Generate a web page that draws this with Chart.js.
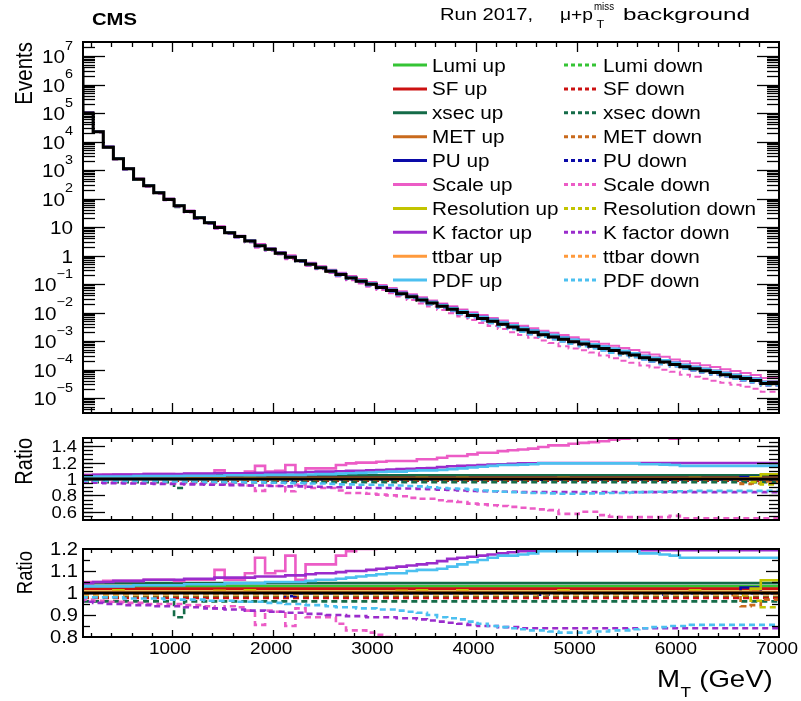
<!DOCTYPE html>
<html>
<head>
<meta charset="utf-8">
<script src="https://cdn.jsdelivr.net/npm/chart.js@4.4.1/dist/chart.umd.min.js"></script>
<style>
  html, body { margin: 0; padding: 0; background: #fff; }
  #wrap { position: relative; width: 801px; height: 701px; overflow: hidden; background: #fff; }
  #wrap canvas { position: absolute; left: 0; top: 0; }
</style>
</head>
<body>
<div id="wrap">
  <canvas id="cMain" width="801" height="701"></canvas>
  <canvas id="cRatioWide" width="801" height="701"></canvas>
  <canvas id="cRatioNarrow" width="801" height="701"></canvas>
</div>
<script>
// ---- binning (GeV) ----
const binEdges = [
  120, 220, 320, 420, 520, 620, 720, 820, 920, 1020,
  1120, 1220, 1320, 1420, 1520, 1620, 1720, 1820, 1920, 2020,
  2120, 2220, 2320, 2420, 2520, 2620, 2720, 2820, 2920, 3020,
  3120, 3220, 3320, 3420, 3520, 3620, 3720, 3820, 3920, 4020,
  4120, 4220, 4320, 4420, 4520, 4620, 4720, 4820, 4920, 5020,
  5120, 5220, 5320, 5420, 5520, 5620, 5720, 5820, 5920, 6020,
  6120, 6220, 6320, 6420, 6520, 6620, 6720, 6820, 6920, 7000
];

// ---- nominal background yield per bin ----
const nominal = [
  3.8e6, 1.0e5, 2.2e4, 6.3e3, 2.5e3, 1.1e3, 470, 280, 160, 93,
  56, 35, 21, 14, 9.6, 6.3, 4.6, 3.2, 2.2, 1.65,
  1.2, 0.87, 0.65, 0.49, 0.37, 0.28, 0.214, 0.162, 0.126, 0.098,
  0.076, 0.059, 0.0457, 0.0355, 0.0275, 0.0214, 0.0166, 0.0129, 0.0100, 0.0078,
  0.0062, 0.0049, 0.0039, 0.0031, 0.0025, 0.00204, 0.00166, 0.00138, 0.00115, 0.00095,
  7.9e-4, 6.6e-4, 5.5e-4, 4.6e-4, 3.8e-4, 3.2e-4, 2.6e-4, 2.2e-4, 1.82e-4, 1.51e-4,
  1.26e-4, 1.07e-4, 9.1e-5, 7.8e-5, 6.6e-5, 5.6e-5, 4.8e-5, 4.1e-5, 3.2e-5
];

// ---- systematic variations, as ratio to nominal ----
const lumiUp = [
  1.03, 1.03, 1.03, 1.03, 1.03, 1.03, 1.03, 1.03, 1.03, 1.03,
  1.03, 1.03, 1.03, 1.03, 1.03, 1.03, 1.03, 1.03, 1.03, 1.03,
  1.03, 1.03, 1.03, 1.03, 1.03, 1.03, 1.03, 1.03, 1.03, 1.03,
  1.03, 1.03, 1.03, 1.03, 1.03, 1.03, 1.03, 1.03, 1.03, 1.03,
  1.03, 1.03, 1.03, 1.03, 1.03, 1.03, 1.03, 1.03, 1.03, 1.03,
  1.03, 1.03, 1.03, 1.03, 1.03, 1.03, 1.03, 1.03, 1.03, 1.03,
  1.03, 1.03, 1.03, 1.03, 1.03, 1.03, 1.03, 1.03, 1.03
];
const lumiDown = [
  0.982, 0.982, 0.982, 0.982, 0.982, 0.982, 0.982, 0.982, 0.982, 0.982,
  0.982, 0.982, 0.982, 0.982, 0.982, 0.982, 0.982, 0.982, 0.982, 0.982,
  0.982, 0.982, 0.982, 0.982, 0.982, 0.982, 0.982, 0.982, 0.982, 0.982,
  0.982, 0.982, 0.982, 0.982, 0.982, 0.982, 0.982, 0.982, 0.982, 0.982,
  0.982, 0.982, 0.982, 0.982, 0.982, 0.982, 0.982, 0.982, 0.982, 0.982,
  0.982, 0.982, 0.982, 0.982, 0.982, 0.982, 0.982, 0.982, 0.982, 0.982,
  0.982, 0.982, 0.982, 0.982, 0.982, 0.982, 0.982, 0.982, 0.982
];
const sfUp = [
  1.02, 1.02, 1.02, 1.02, 1.02, 1.02, 1.02, 1.02, 1.02, 1.02,
  1.02, 1.02, 1.02, 1.02, 1.02, 1.02, 1.02, 1.02, 1.02, 1.02,
  1.02, 1.02, 1.02, 1.02, 1.02, 1.02, 1.02, 1.02, 1.02, 1.02,
  1.02, 1.02, 1.02, 1.02, 1.02, 1.02, 1.02, 1.02, 1.02, 1.02,
  1.02, 1.02, 1.02, 1.02, 1.02, 1.02, 1.02, 1.02, 1.02, 1.02,
  1.02, 1.02, 1.02, 1.02, 1.02, 1.02, 1.02, 1.02, 1.02, 1.02,
  1.02, 1.02, 1.02, 1.02, 1.02, 1.02, 1.02, 1.02, 1.02
];
const sfDown = [
  0.978, 0.978, 0.978, 0.978, 0.978, 0.978, 0.978, 0.978, 0.978, 0.978,
  0.978, 0.978, 0.978, 0.978, 0.978, 0.978, 0.978, 0.978, 0.978, 0.978,
  0.978, 0.978, 0.978, 0.978, 0.978, 0.978, 0.978, 0.978, 0.978, 0.978,
  0.978, 0.978, 0.978, 0.978, 0.978, 0.978, 0.978, 0.978, 0.978, 0.978,
  0.978, 0.978, 0.978, 0.978, 0.978, 0.978, 0.978, 0.978, 0.978, 0.978,
  0.978, 0.978, 0.978, 0.978, 0.978, 0.978, 0.978, 0.978, 0.978, 0.978,
  0.978, 0.978, 0.978, 0.978, 0.978, 0.978, 0.978, 0.978, 0.978
];
const xsecUp = [
  1.045, 1.045, 1.045, 1.045, 1.045, 1.045, 1.045, 1.045, 1.045, 1.045,
  1.045, 1.045, 1.045, 1.045, 1.045, 1.045, 1.045, 1.045, 1.045, 1.045,
  1.045, 1.045, 1.045, 1.045, 1.045, 1.045, 1.045, 1.045, 1.045, 1.045,
  1.045, 1.045, 1.045, 1.045, 1.045, 1.045, 1.045, 1.045, 1.045, 1.045,
  1.045, 1.045, 1.045, 1.045, 1.045, 1.045, 1.045, 1.045, 1.045, 1.045,
  1.045, 1.045, 1.045, 1.045, 1.045, 1.045, 1.045, 1.045, 1.045, 1.045,
  1.045, 1.045, 1.045, 1.045, 1.045, 1.045, 1.045, 1.045, 1.045
];
const xsecDown = [
  0.962, 0.962, 0.962, 0.962, 0.962, 0.962, 0.962, 0.962, 0.962, 0.962,
  0.89, 0.962, 0.962, 0.962, 0.962, 0.962, 0.962, 0.962, 0.962, 0.962,
  0.962, 0.962, 0.962, 0.962, 0.962, 0.962, 0.962, 0.962, 0.962, 0.962,
  0.962, 0.962, 0.962, 0.962, 0.962, 0.962, 0.962, 0.962, 0.962, 0.962,
  0.962, 0.962, 0.962, 0.962, 0.962, 0.962, 0.962, 0.962, 0.962, 0.962,
  0.962, 0.962, 0.962, 0.962, 0.962, 0.962, 0.962, 0.962, 0.962, 0.962,
  0.962, 0.962, 0.962, 0.962, 0.962, 0.962, 0.962, 0.962, 0.962
];
const metUp = [
  1.003, 1.003, 1.003, 1.003, 1.003, 1.003, 1.003, 1.003, 1.003, 1.003,
  1.003, 1.003, 1.003, 1.003, 1.003, 1.003, 1.003, 1.003, 1.003, 1.003,
  1.003, 1.003, 1.003, 1.003, 1.003, 1.003, 1.003, 1.003, 1.003, 1.003,
  1.003, 1.003, 1.003, 1.003, 1.003, 1.003, 1.003, 1.003, 1.003, 1.003,
  1.003, 1.003, 1.003, 1.003, 1.003, 1.003, 1.003, 1.003, 1.003, 1.003,
  1.003, 1.003, 1.003, 1.003, 1.003, 1.003, 1.003, 1.003, 1.003, 1.003,
  1.003, 1.003, 1.003, 1.003, 1.003, 1.003, 1.003, 1.01, 1.003
];
const metDown = [
  0.997, 0.997, 0.997, 0.997, 0.997, 0.997, 0.997, 0.997, 0.997, 0.997,
  0.997, 0.997, 0.997, 0.997, 0.997, 0.997, 0.997, 0.997, 0.997, 0.997,
  0.997, 0.997, 0.997, 0.997, 0.997, 0.997, 0.997, 0.997, 0.997, 0.997,
  0.997, 0.997, 0.997, 0.997, 0.997, 0.997, 0.997, 0.997, 0.997, 0.997,
  0.997, 0.997, 0.997, 0.997, 0.997, 0.997, 0.997, 0.997, 0.997, 0.997,
  0.997, 0.997, 0.997, 0.997, 0.997, 0.997, 0.997, 0.997, 0.997, 0.997,
  0.997, 0.997, 0.997, 0.997, 0.997, 0.99, 0.94, 0.945, 0.97
];
const puUp = [
  1.001, 1.001, 1.001, 1.001, 1.001, 1.001, 1.001, 1.001, 1.001, 1.001,
  1.001, 1.001, 1.001, 1.001, 1.001, 1.001, 1.001, 1.001, 1.001, 1.001,
  1.001, 1.001, 1.001, 1.001, 1.001, 1.001, 1.001, 1.001, 1.001, 1.001,
  1.001, 1.001, 1.001, 1.001, 1.001, 1.001, 1.001, 1.001, 1.001, 1.001,
  1.001, 1.001, 1.001, 1.001, 1.001, 1.001, 1.001, 1.001, 1.001, 1.001,
  1.001, 1.001, 1.001, 1.001, 1.001, 1.001, 1.001, 1.001, 1.001, 1.001,
  1.001, 1.001, 1.001, 1.001, 1.001, 1.001, 1.025, 1.025, 1.001
];
const puDown = [
  0.999, 0.999, 0.999, 0.999, 0.999, 0.999, 0.999, 0.999, 0.999, 0.999,
  0.999, 0.999, 0.999, 0.999, 0.999, 0.999, 0.999, 0.999, 0.999, 0.999,
  0.999, 0.985, 0.999, 0.999, 0.999, 0.999, 0.999, 0.999, 0.999, 0.999,
  0.999, 0.999, 0.999, 0.999, 0.999, 0.999, 0.999, 0.999, 0.999, 0.999,
  0.999, 0.999, 0.999, 0.999, 0.999, 0.999, 0.992, 0.999, 0.999, 0.999,
  0.999, 0.999, 0.999, 0.999, 0.999, 0.999, 0.999, 0.999, 0.992, 0.999,
  0.999, 0.999, 0.999, 0.999, 0.999, 0.999, 0.999, 0.999, 0.999
];
const scaleUp = [
  1.05, 1.05, 1.05, 1.055, 1.055, 1.055, 1.055, 1.06, 1.06, 1.06,
  1.055, 1.06, 1.06, 1.06, 1.105, 1.06, 1.06, 1.09, 1.16, 1.09,
  1.10, 1.17, 1.06, 1.13, 1.13, 1.13, 1.17, 1.19, 1.20, 1.20,
  1.21, 1.22, 1.22, 1.22, 1.24, 1.24, 1.26, 1.28, 1.28, 1.30,
  1.32, 1.32, 1.34, 1.35, 1.36, 1.37, 1.39, 1.41, 1.41, 1.43,
  1.44, 1.45, 1.46, 1.48, 1.49, 1.50, 1.52, 1.53, 1.53, 1.49,
  1.54, 1.55, 1.55, 1.56, 1.56, 1.57, 1.57, 1.58, 1.58
];
const scaleDown = [
  0.98, 0.97, 0.965, 0.96, 0.96, 0.955, 0.955, 0.95, 0.95, 0.95,
  0.95, 0.945, 0.945, 0.94, 0.93, 0.94, 0.935, 0.92, 0.855, 0.92,
  0.915, 0.85, 0.93, 0.89, 0.89, 0.89, 0.86, 0.83, 0.83, 0.82,
  0.81, 0.80, 0.79, 0.77, 0.76, 0.76, 0.74, 0.73, 0.72, 0.70,
  0.69, 0.68, 0.67, 0.66, 0.65, 0.64, 0.63, 0.62, 0.575, 0.575,
  0.60, 0.60, 0.56, 0.54, 0.535, 0.535, 0.535, 0.535, 0.535, 0.55,
  0.52, 0.52, 0.52, 0.52, 0.52, 0.52, 0.52, 0.52, 0.52
];
const resUp = [
  1.005, 1.005, 1.005, 1.005, 1.012, 1.005, 1.005, 1.005, 1.005, 1.005,
  1.005, 1.005, 1.005, 1.005, 1.01, 1.005, 1.005, 1.012, 1.005, 1.005,
  1.005, 1.005, 1.005, 1.005, 1.005, 1.005, 1.005, 1.005, 1.005, 1.005,
  1.005, 1.005, 1.01, 1.005, 1.012, 1.005, 1.005, 1.005, 1.012, 1.005,
  1.005, 1.005, 1.005, 1.005, 1.005, 1.005, 1.005, 1.005, 1.012, 1.005,
  1.005, 1.005, 1.005, 1.005, 1.005, 1.005, 1.005, 1.005, 1.005, 1.005,
  1.005, 1.012, 1.005, 1.005, 1.005, 1.005, 1.005, 1.02, 1.058
];
const resDown = [
  0.995, 0.995, 0.995, 0.995, 0.995, 0.995, 0.995, 0.995, 0.995, 0.995,
  0.995, 0.995, 0.995, 0.995, 0.995, 0.995, 0.995, 0.995, 0.995, 0.995,
  0.995, 0.995, 0.995, 0.995, 0.995, 0.995, 0.995, 0.995, 0.995, 0.995,
  0.995, 0.995, 0.995, 0.995, 0.995, 0.995, 0.995, 0.995, 0.995, 0.995,
  0.995, 0.995, 0.995, 0.995, 0.995, 0.995, 0.995, 0.995, 0.995, 0.995,
  0.995, 0.995, 0.995, 0.995, 0.995, 0.995, 0.995, 0.995, 0.995, 0.995,
  0.995, 0.995, 0.995, 0.995, 0.995, 0.995, 0.99, 0.965, 0.935
];
const kUp = [
  1.03, 1.045, 1.05, 1.05, 1.055, 1.055, 1.055, 1.06, 1.06, 1.06,
  1.06, 1.065, 1.065, 1.065, 1.07, 1.07, 1.07, 1.07, 1.075, 1.075,
  1.075, 1.08, 1.08, 1.085, 1.09, 1.09, 1.095, 1.10, 1.10, 1.105,
  1.11, 1.115, 1.12, 1.125, 1.13, 1.135, 1.145, 1.155, 1.16, 1.165,
  1.17, 1.175, 1.18, 1.185, 1.19, 1.192, 1.195, 1.195, 1.195, 1.195,
  1.195, 1.195, 1.195, 1.195, 1.195, 1.195, 1.195, 1.195, 1.195, 1.195,
  1.195, 1.195, 1.195, 1.195, 1.195, 1.195, 1.195, 1.195, 1.195
];
const kDown = [
  0.98, 0.96, 0.955, 0.95, 0.95, 0.945, 0.945, 0.945, 0.94, 0.94,
  0.94, 0.935, 0.935, 0.93, 0.93, 0.925, 0.925, 0.92, 0.92, 0.915,
  0.915, 0.91, 0.91, 0.905, 0.905, 0.90, 0.90, 0.895, 0.895, 0.89,
  0.89, 0.89, 0.885, 0.885, 0.88, 0.875, 0.87, 0.865, 0.86, 0.855,
  0.85, 0.85, 0.845, 0.845, 0.84, 0.84, 0.84, 0.84, 0.84, 0.84,
  0.84, 0.84, 0.84, 0.84, 0.84, 0.84, 0.84, 0.84, 0.84, 0.84,
  0.84, 0.84, 0.84, 0.84, 0.84, 0.84, 0.84, 0.84, 0.84
];
const ttbarUp = [
  1.006, 1.006, 1.006, 1.006, 1.006, 1.006, 1.006, 1.006, 1.006, 1.006,
  1.006, 1.006, 1.006, 1.006, 1.006, 1.006, 1.006, 1.006, 1.006, 1.006,
  1.006, 1.006, 1.006, 1.006, 1.006, 1.006, 1.006, 1.006, 1.006, 1.006,
  1.006, 1.006, 1.006, 1.006, 1.006, 1.006, 1.006, 1.006, 1.006, 1.006,
  1.006, 1.006, 1.006, 1.006, 1.006, 1.006, 1.006, 1.006, 1.006, 1.006,
  1.006, 1.006, 1.006, 1.006, 1.006, 1.006, 1.006, 1.006, 1.006, 1.006,
  1.006, 1.006, 1.006, 1.006, 1.006, 1.006, 1.006, 1.006, 1.006
];
const ttbarDown = [
  0.995, 0.995, 0.995, 0.995, 0.995, 0.995, 0.995, 0.995, 0.995, 0.995,
  0.995, 0.995, 0.995, 0.995, 0.995, 0.995, 0.995, 0.995, 0.995, 0.995,
  0.995, 0.995, 0.995, 0.995, 0.995, 0.995, 0.995, 0.995, 0.995, 0.995,
  0.995, 0.995, 0.995, 0.995, 0.995, 0.995, 0.995, 0.995, 0.995, 0.995,
  0.995, 0.995, 0.995, 0.995, 0.995, 0.995, 0.995, 0.995, 0.995, 0.995,
  0.995, 0.995, 0.995, 0.995, 0.995, 0.995, 0.995, 0.995, 0.995, 0.995,
  0.995, 0.995, 0.995, 0.995, 0.995, 0.995, 0.995, 0.995, 0.995
];
const pdfUp = [
  1.02, 1.03, 1.03, 1.03, 1.03, 1.03, 1.035, 1.035, 1.035, 1.035,
  1.035, 1.04, 1.04, 1.04, 1.04, 1.045, 1.045, 1.045, 1.045, 1.05,
  1.05, 1.05, 1.05, 1.055, 1.06, 1.06, 1.065, 1.07, 1.075, 1.08,
  1.085, 1.09, 1.09, 1.10, 1.105, 1.105, 1.11, 1.12, 1.13, 1.14,
  1.15, 1.16, 1.17, 1.17, 1.175, 1.18, 1.19, 1.19, 1.19, 1.19,
  1.19, 1.19, 1.19, 1.19, 1.19, 1.19, 1.18, 1.18, 1.175, 1.17,
  1.16, 1.16, 1.16, 1.16, 1.16, 1.16, 1.16, 1.16, 1.16
];
const pdfDown = [
  0.985, 0.98, 0.98, 0.98, 0.98, 0.975, 0.975, 0.975, 0.975, 0.97,
  0.97, 0.97, 0.97, 0.965, 0.965, 0.965, 0.96, 0.96, 0.96, 0.955,
  0.955, 0.95, 0.95, 0.945, 0.945, 0.94, 0.935, 0.935, 0.93, 0.93,
  0.925, 0.925, 0.92, 0.915, 0.91, 0.90, 0.89, 0.885, 0.88, 0.87,
  0.86, 0.85, 0.845, 0.84, 0.835, 0.83, 0.83, 0.825, 0.82, 0.82,
  0.82, 0.825, 0.825, 0.83, 0.83, 0.835, 0.84, 0.845, 0.845, 0.85,
  0.85, 0.855, 0.855, 0.855, 0.855, 0.855, 0.855, 0.855, 0.855
];

// ---- legend / styling lookups ----
const systNames = ['Lumi', 'SF', 'xsec', 'MET', 'PU', 'Scale', 'Resolution', 'K factor', 'ttbar', 'PDF'];
const systColors = ['#35c435', '#cc1111', '#146b48', '#c96a1c', '#0a0aa8', '#ec5cc6', '#c2c400', '#9a2ccc', '#ff9a3c', '#4cc0f0'];
const upRatios = [lumiUp, sfUp, xsecUp, metUp, puUp, scaleUp, resUp, kUp, ttbarUp, pdfUp];
const downRatios = [lumiDown, sfDown, xsecDown, metDown, puDown, scaleDown, resDown, kDown, ttbarDown, pdfDown];

// ---- axis ticks and labels ----
const xMajorTicks = [1000, 2000, 3000, 4000, 5000, 6000, 7000];
const xTickLabels = ['1000', '2000', '3000', '4000', '5000', '6000', '7000'];
const eventExponents = [-5, -4, -3, -2, -1, 0, 1, 2, 3, 4, 5, 6, 7];
const ratioWideTicks = [0.6, 0.8, 1.0, 1.2, 1.4];
const ratioWideLabels = ['0.6', '0.8', '1', '1.2', '1.4'];
const ratioNarrowTicks = [0.8, 0.9, 1.0, 1.1, 1.2];
const ratioNarrowLabels = ['0.8', '0.9', '1', '1.1', '1.2'];

const X_MIN = 120, X_MAX = 7000;
const FONT = '"Liberation Sans", Arial, Helvetica, sans-serif';
const SX = 1.15;   // horizontal text stretch

// step-histogram points: one point per lower edge + closing upper edge
function steps(values) {
  const pts = values.map((v, i) => ({ x: binEdges[i], y: v }));
  pts.push({ x: binEdges[values.length], y: values[values.length - 1] });
  return pts;
}

function histDataset(values, color, dashed, width, order) {
  return {
    data: steps(values),
    borderColor: color,
    borderWidth: width,
    borderDash: dashed ? [6, 4] : [],
    stepped: 'after',
    pointRadius: 0,
    fill: false,
    order: order
  };
}

// ---- text helpers ----
function txt(ctx, s, x, y, size, opt) {
  opt = opt || {};
  ctx.save();
  ctx.font = (opt.bold ? 'bold ' : '') + size + 'px ' + FONT;
  ctx.fillStyle = '#000';
  ctx.textBaseline = 'alphabetic';
  const w = ctx.measureText(s).width;
  ctx.translate(x, y);
  ctx.scale(opt.sx || SX, 1);
  if (opt.rot) ctx.rotate(opt.rot);
  let dx = 0;
  if (opt.align === 'right') dx = -w;
  else if (opt.align === 'center') dx = -w / 2;
  ctx.fillText(s, dx, 0);
  ctx.restore();
  return w * (opt.sx || SX);
}
function txtFit(ctx, s, xl, xr, y, size, bold) {
  ctx.save();
  ctx.font = (bold ? 'bold ' : '') + size + 'px ' + FONT;
  const w = ctx.measureText(s).width;
  ctx.restore();
  txt(ctx, s, xl, y, size, { bold: bold, sx: (xr - xl) / w });
}

// ---- frame & tick helpers ----
function line(ctx, x1, y1, x2, y2) {
  ctx.beginPath(); ctx.moveTo(x1, y1); ctx.lineTo(x2, y2); ctx.stroke();
}
function drawFrame(ctx, a) {
  ctx.save();
  ctx.strokeStyle = '#000'; ctx.lineWidth = 2;
  ctx.strokeRect(a.left, a.top, a.right - a.left, a.bottom - a.top);
  ctx.restore();
}
function ticksX(ctx, xs, a, values, len) {
  ctx.save(); ctx.strokeStyle = '#000'; ctx.lineWidth = 1.3;
  for (const v of values) {
    const px = Math.round(xs.getPixelForValue(v)) + 0.5;
    if (px <= a.left + 1 || px >= a.right - 1) continue;
    line(ctx, px, a.bottom, px, a.bottom - len);
    line(ctx, px, a.top, px, a.top + len);
  }
  ctx.restore();
}
function ticksY(ctx, ys, a, values, len) {
  ctx.save(); ctx.strokeStyle = '#000'; ctx.lineWidth = 1.3;
  for (const v of values) {
    const py = Math.round(ys.getPixelForValue(v)) + 0.5;
    if (py <= a.top + 1 || py >= a.bottom - 1) continue;
    line(ctx, a.left, py, a.left + len, py);
    line(ctx, a.right, py, a.right - len, py);
  }
  ctx.restore();
}
function xMinorList() {
  const out = [];
  for (let v = 200; v < X_MAX; v += 200) if (v % 1000 !== 0) out.push(v);
  return out;
}

// ---- datasets ----
function mainDatasets() {
  const ds = [histDataset(nominal, '#000', false, 3, 0)];
  systNames.forEach((n, k) => {
    ds.push(histDataset(nominal.map((v, i) => v * upRatios[k][i]), systColors[k], false, 2, 100 - 2 * k));
    ds.push(histDataset(nominal.map((v, i) => v * downRatios[k][i]), systColors[k], true, 2, 99 - 2 * k));
  });
  return ds;
}
function ratioDatasets() {
  const ds = [histDataset(nominal.map(v => v / v), '#000', false, 3, 0)];
  systNames.forEach((n, k) => {
    ds.push(histDataset(upRatios[k], systColors[k], false, 2.6, 100 - 2 * k));
    ds.push(histDataset(downRatios[k], systColors[k], true, 2.6, 99 - 2 * k));
  });
  return ds;
}

// ---- decorations ----
function decorateMain(chart) {
  const ctx = chart.ctx, xs = chart.scales.x, ys = chart.scales.y, a = chart.chartArea;
  // log minor ticks
  const minors = [];
  for (let e = -6; e <= 7; e++) for (let m = 2; m <= 9; m++) minors.push(m * Math.pow(10, e));
  ticksY(ctx, ys, a, minors, 12);
  ticksY(ctx, ys, a, eventExponents.map(e => Math.pow(10, e)), 22);
  ticksX(ctx, xs, a, xMinorList(), 5);
  ticksX(ctx, xs, a, xMajorTicks, 10);
  drawFrame(ctx, a);

  // y labels
  const RIGHT = 73;
  for (const e of eventExponents) {
    const py = ys.getPixelForValue(Math.pow(10, e));
    if (e === 0 || e === 1) {
      txt(ctx, e === 0 ? '1' : '10', RIGHT, py + 7, 18, { align: 'right' });
    } else {
      const sup = e < 0 ? '\u2212' + (-e) : String(e);
      const ws = txt(ctx, sup, RIGHT, py - 6.5, 12.5, { align: 'right' });
      txt(ctx, '10', RIGHT - ws, py + 7, 18, { align: 'right' });
    }
  }
  // axis title
  txt(ctx, 'Events', 32, 42, 20.5, { align: 'right', rot: -Math.PI / 2 });

  // header
  txtFit(ctx, 'CMS', 92, 137, 25, 17, true);
  txtFit(ctx, 'Run 2017,', 440, 533, 19.5, 17, false);
  txtFit(ctx, '\u03bc+p', 560, 593, 19.5, 17, false);
  txtFit(ctx, 'miss', 594, 614, 9.5, 10.5, false);
  txt(ctx, 'T', 596.5, 28, 11);
  txtFit(ctx, 'background', 623, 750, 19.5, 17, false);

  // legend
  ctx.save();
  systNames.forEach((n, k) => {
    const y = 65 + 23.9 * k;
    ctx.strokeStyle = systColors[k];
    ctx.lineWidth = 3;
    ctx.setLineDash([]);
    line(ctx, 393, y, 427, y);
    ctx.setLineDash([4, 3]);
    line(ctx, 564, y, 598, y);
    ctx.setLineDash([]);
    txt(ctx, n + ' up', 432, y + 6.5, 18);
    txt(ctx, n + ' down', 603, y + 6.5, 18);
  });
  ctx.restore();
}

function decorateRatioWide(chart) {
  const ctx = chart.ctx, xs = chart.scales.x, ys = chart.scales.y, a = chart.chartArea;
  const minors = [];
  for (let v = 0.55; v < 1.5; v += 0.05) minors.push(Math.round(v * 100) / 100);
  ticksY(ctx, ys, a, minors, 10);
  ticksY(ctx, ys, a, ratioWideTicks, 22);
  ticksX(ctx, xs, a, xMinorList(), 4);
  ticksX(ctx, xs, a, xMajorTicks, 7);
  drawFrame(ctx, a);
  ratioWideTicks.forEach((v, i) => {
    txt(ctx, ratioWideLabels[i], 77, ys.getPixelForValue(v) + 6, 16, { align: 'right' });
  });
  txt(ctx, 'Ratio', 32, 438, 20, { align: 'right', rot: -Math.PI / 2 });
}

function decorateRatioNarrow(chart) {
  const ctx = chart.ctx, xs = chart.scales.x, ys = chart.scales.y, a = chart.chartArea;
  ticksY(ctx, ys, a, [0.85, 0.95, 1.05, 1.15], 7);
  ticksY(ctx, ys, a, ratioNarrowTicks, 13);
  ticksX(ctx, xs, a, xMinorList(), 4);
  ticksX(ctx, xs, a, xMajorTicks, 7);
  drawFrame(ctx, a);
  ratioNarrowTicks.forEach((v, i) => {
    txt(ctx, ratioNarrowLabels[i], 78, ys.getPixelForValue(v) + 6.3, 17.5, { align: 'right' });
  });
  xMajorTicks.forEach((v, i) => {
    txt(ctx, xTickLabels[i], xs.getPixelForValue(v) - 2, 654, 16.5, { align: 'center' });
  });
  txt(ctx, 'Ratio', 32, 551, 18.5, { align: 'right', rot: -Math.PI / 2 });
  // x-axis title M_T (GeV)
  let x = 657;
  x += txt(ctx, 'M', x, 687, 24);
  x += txt(ctx, 'T', x + 0.5, 697, 15);
  txt(ctx, ' (GeV)', x + 1, 687, 24);
}

// ---- chart factory ----
function makeChart(id, area, yOpts, datasets, decorate) {
  return new Chart(document.getElementById(id), {
    type: 'line',
    data: { datasets: datasets },
    options: {
      responsive: false,
      animation: false,
      events: [],
      layout: { padding: { left: area.left, top: area.top, right: 801 - area.right, bottom: 701 - area.bottom } },
      plugins: { legend: { display: false }, tooltip: { enabled: false }, title: { display: false } },
      scales: {
        x: { type: 'linear', min: X_MIN, max: X_MAX, display: false },
        y: Object.assign({ display: false }, yOpts)
      },
      elements: { point: { radius: 0 }, line: { tension: 0 } }
    },
    plugins: [{ id: 'decor', afterDraw: decorate }]
  });
}

makeChart('cMain', { left: 83, right: 779, top: 42, bottom: 413 },
  { type: 'logarithmic', min: 2.98e-6, max: 3.1e7 }, mainDatasets(), decorateMain);
makeChart('cRatioWide', { left: 83, right: 779, top: 438, bottom: 520 },
  { type: 'linear', min: 0.5, max: 1.5 }, ratioDatasets(), decorateRatioWide);
makeChart('cRatioNarrow', { left: 83, right: 779, top: 549, bottom: 637 },
  { type: 'linear', min: 0.8, max: 1.2 }, ratioDatasets(), decorateRatioNarrow);
</script>
</body>
</html>
